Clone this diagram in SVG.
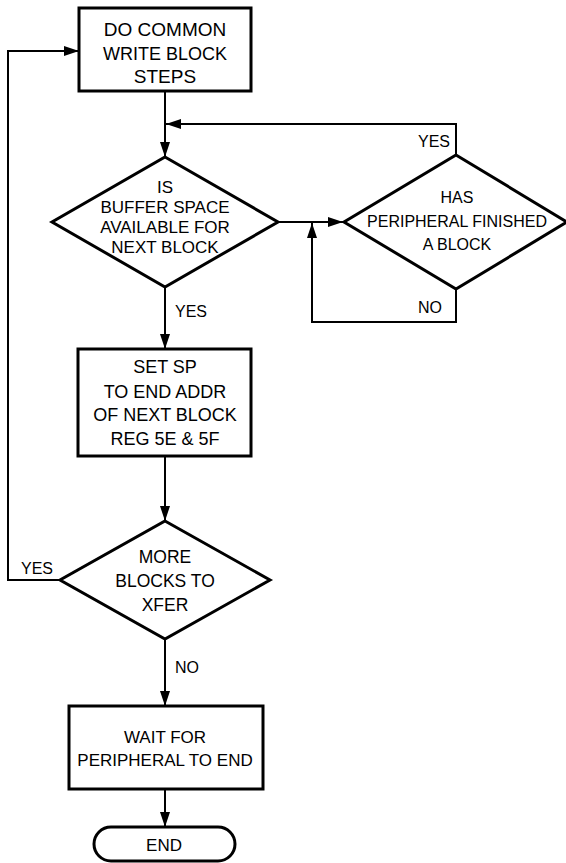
<svg xmlns="http://www.w3.org/2000/svg" width="566" height="863" viewBox="0 0 566 863">
<style>
.shape{fill:#fff;stroke:#000;stroke-width:3}
.conn path{fill:none;stroke:#000;stroke-width:2}
text{font-family:"Liberation Sans",Arial,sans-serif;fill:#000;text-anchor:middle}
.lbl{font-size:16px;text-anchor:start}
</style>
<defs>
<marker id="arr" markerUnits="userSpaceOnUse" markerWidth="15" markerHeight="10" refX="15" refY="5" orient="auto">
<path d="M0,0 L15,5 L0,10 z" fill="#000"/>
</marker>
</defs>
<rect width="566" height="863" fill="#fff"/>
<g class="conn">
<path d="M165,92 V157" marker-end="url(#arr)"/>
<path d="M456,154 V124 H166" marker-end="url(#arr)"/>
<path d="M279,222 H343" marker-end="url(#arr)"/>
<path d="M456,290 V322 H312 V223" marker-end="url(#arr)"/>
<path d="M165,288 V349" marker-end="url(#arr)"/>
<path d="M165,457 V521" marker-end="url(#arr)"/>
<path d="M60,580 H8 V51 H79" marker-end="url(#arr)"/>
<path d="M165,640 V706" marker-end="url(#arr)"/>
<path d="M165,790 V827" marker-end="url(#arr)"/>
</g>
<g id="start">
<rect class="shape" x="79" y="8" width="172" height="83"/>
<text font-size="19" x="165" y="36">DO COMMON</text>
<text font-size="18" x="165" y="60">WRITE BLOCK</text>
<text font-size="19" x="165" y="83">STEPS</text>
</g>
<g id="bufferq">
<polygon class="shape" points="165,157 278,222 165,287 52,222"/>
<text font-size="17" x="165" y="193">IS</text>
<text font-size="17" x="165" y="213">BUFFER SPACE</text>
<text font-size="17" x="165" y="233">AVAILABLE FOR</text>
<text font-size="17" x="165" y="253">NEXT BLOCK</text>
</g>
<g id="periphq">
<polygon class="shape" points="456,155 567,222 456,289 344,222"/>
<text font-size="16" x="457" y="203">HAS</text>
<text font-size="16" x="457" y="227">PERIPHERAL FINISHED</text>
<text font-size="16" x="457" y="250">A BLOCK</text>
</g>
<g id="setsp">
<rect class="shape" x="78" y="349" width="173" height="107"/>
<text font-size="18" x="165" y="373">SET SP</text>
<text font-size="18" x="165" y="398">TO END ADDR</text>
<text font-size="18" x="165" y="421">OF NEXT BLOCK</text>
<text font-size="18" x="165" y="445">REG 5E &amp; 5F</text>
</g>
<g id="moreq">
<polygon class="shape" points="165,521 270,580 165,639 60,580"/>
<text font-size="17.5" x="165" y="563">MORE</text>
<text font-size="17.5" x="165" y="587">BLOCKS TO</text>
<text font-size="17.5" x="165" y="611">XFER</text>
</g>
<g id="wait">
<rect class="shape" x="69" y="706" width="194" height="83"/>
<text font-size="17" x="165" y="743">WAIT FOR</text>
<text font-size="17" x="165" y="766">PERIPHERAL TO END</text>
</g>
<g id="end">
<rect class="shape" x="94" y="827" width="141" height="34" rx="17"/>
<text font-size="17" x="164" y="851">END</text>
</g>
<g id="labels">
<text class="lbl" x="418" y="147">YES</text>
<text class="lbl" x="418" y="313">NO</text>
<text class="lbl" x="175" y="317">YES</text>
<text class="lbl" x="21" y="574">YES</text>
<text class="lbl" x="175" y="673">NO</text>
</g>
</svg>
